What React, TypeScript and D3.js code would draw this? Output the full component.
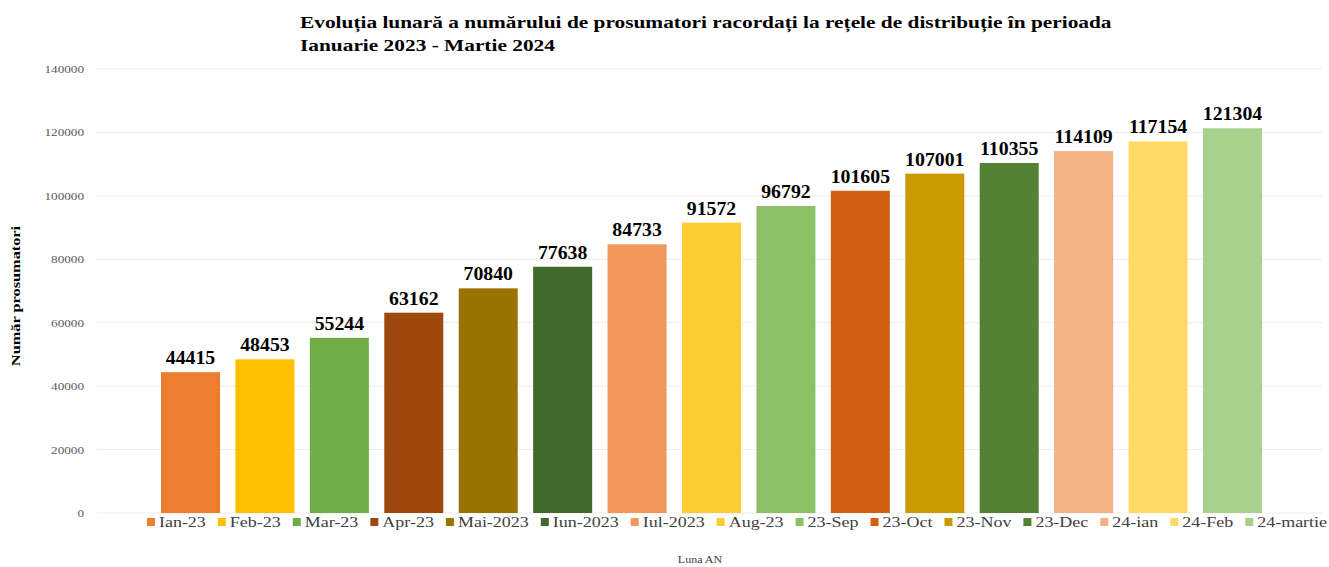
import * as d3 from "d3";
import { useRef, useEffect } from "react";

const months = [
  "Ian-23", "Feb-23", "Mar-23", "Apr-23", "Mai-2023", "Iun-2023", "Iul-2023", "Aug-23",
  "23-Sep", "23-Oct", "23-Nov", "23-Dec", "24-ian", "24-Feb", "24-martie",
];
const prosumers = [
  44415, 48453, 55244, 63162, 70840, 77638, 84733, 91572,
  96792, 101605, 107001, 110355, 114109, 117154, 121304,
];
const barColors = [
  "#ED7D31", "#FFC000", "#70AD47", "#9E480E", "#997300", "#43682B", "#F1975A", "#FFCD33",
  "#8CC168", "#D26012", "#CC9A00", "#548235", "#F4B183", "#FFD966", "#A9D18E",
];
const yTicks = [0, 20000, 40000, 60000, 80000, 100000, 120000, 140000];
const titleLines = [
  "Evoluția lunară a numărului de prosumatori racordați la rețele de distribuție în perioada",
  "Ianuarie 2023 - Martie 2024",
];

const W = 1329;
const H = 567;
const font = "'Liberation Serif', 'Times New Roman', serif";
// the source picture is stretched sideways, so text is widened a little
const sx = 1.2;

export default function App() {
  const ref = useRef<SVGSVGElement | null>(null);

  useEffect(() => {
    const svg = d3.select(ref.current);
    svg.selectAll("*").remove();

    const gridLeft = 97, gridRight = 1322;
    const y = d3.scaleLinear().domain([0, 140000]).range([513, 69]);
    const x = d3.scaleBand<string>().domain(months).range([161, 1262]).paddingInner(0.207).paddingOuter(0);

    // title
    svg.append("g")
      .selectAll("text")
      .data(titleLines)
      .join("text")
      .attr("transform", (d, i) => `translate(300,${28 + i * 23}) scale(1.22,1)`)
      .attr("font-family", font)
      .attr("font-weight", "bold")
      .attr("font-size", 17.5)
      .attr("fill", "#000")
      .text(d => d);

    // grid + ticks
    const grid = svg.append("g");
    grid.selectAll("line")
      .data(yTicks)
      .join("line")
      .attr("x1", gridLeft)
      .attr("x2", gridRight)
      .attr("y1", d => y(d))
      .attr("y2", d => y(d))
      .attr("stroke", "#EDEDED")
      .attr("stroke-width", 1);
    grid.selectAll("text")
      .data(yTicks)
      .join("text")
      .attr("transform", d => `translate(84,${y(d) + 4}) scale(${sx},1)`)
      .attr("text-anchor", "end")
      .attr("font-family", font)
      .attr("font-size", 11)
      .attr("fill", "#595959")
      .text(d => String(d));

    // y title
    svg.append("text")
      .attr("transform", `translate(20,${(y(0) + y(140000)) / 2 + 5}) rotate(-90) scale(1.36,1)`)
      .attr("text-anchor", "middle")
      .attr("font-family", font)
      .attr("font-weight", "bold")
      .attr("font-size", 12)
      .attr("fill", "#000")
      .text("Număr prosumatori");

    // bars
    const bars = svg.append("g");
    bars.selectAll("rect")
      .data(prosumers)
      .join("rect")
      .attr("x", (d, i) => x(months[i])!)
      .attr("y", d => y(d))
      .attr("width", x.bandwidth())
      .attr("height", d => y(0) - y(d))
      .attr("fill", (d, i) => barColors[i]);
    bars.selectAll("text")
      .data(prosumers)
      .join("text")
      .attr("transform", (d, i) => `translate(${x(months[i])! + x.bandwidth() / 2},${y(d) - 8}) scale(1.1,1)`)
      .attr("text-anchor", "middle")
      .attr("font-family", font)
      .attr("font-weight", "bold")
      .attr("font-size", 18)
      .attr("fill", "#000")
      .text(d => String(d));

    // legend
    const legend = svg.append("g").attr("transform", "translate(0,522)");
    const items = legend.selectAll("g")
      .data(months)
      .join("g");
    items.append("rect")
      .attr("width", 8)
      .attr("height", 8)
      .attr("y", -4)
      .attr("fill", (d, i) => barColors[i]);
    items.append("text")
      .attr("transform", `translate(12,5) scale(${sx},1)`)
      .attr("font-family", font)
      .attr("font-size", 15)
      .attr("fill", "#404040")
      .text(d => d);
    const widths: number[] = [];
    items.select<SVGTextElement>("text").each(function () {
      widths.push(this.getComputedTextLength() * sx);
    });
    const gap = 12;
    const total = d3.sum(widths) + widths.length * 12 + (widths.length - 1) * gap;
    let cx = 737 - total / 2;
    items.attr("transform", (d, i) => {
      const t = `translate(${cx},0)`;
      cx += 12 + widths[i] + gap;
      return t;
    });

    // x title
    svg.append("text")
      .attr("transform", `translate(700,563) scale(${sx},1)`)
      .attr("text-anchor", "middle")
      .attr("font-family", font)
      .attr("font-size", 10)
      .attr("fill", "#404040")
      .text("Luna AN");
  }, []);

  return (
    <svg
      ref={ref}
      width={W}
      height={H}
      style={{ position: "absolute", left: 0, top: 0, display: "block", background: "#fff" }}
    />
  );
}
